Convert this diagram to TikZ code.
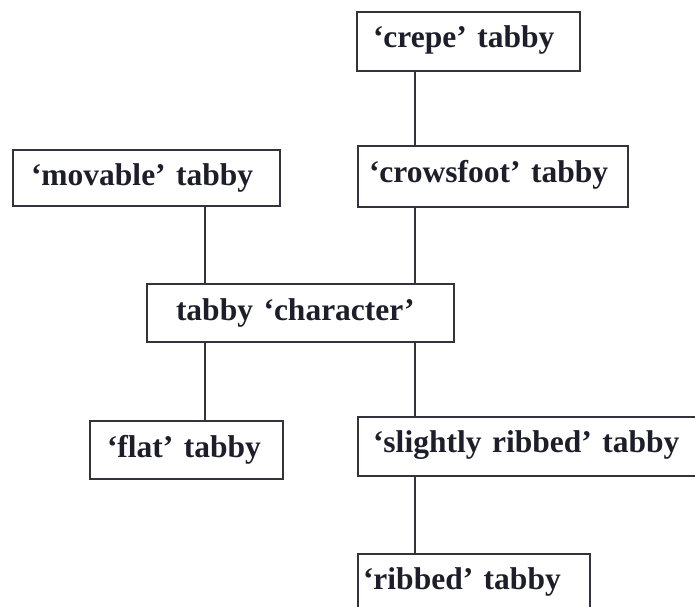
\documentclass[tikz,border=0pt]{standalone}
\usepackage{fontspec}
\setmainfont{Liberation Serif}
\definecolor{ink}{HTML}{1E1E2A}
\definecolor{edgec}{HTML}{33333D}
\begin{document}
\begin{tikzpicture}[x=1pt,y=-1pt,
  box/.style={draw=edgec, line width=2pt, rectangle, anchor=north west, inner ysep=0pt,
    align=left, font=\fontsize{31.5}{36}\selectfont\bfseries, text=ink},
  link/.style={draw=edgec, line width=2pt}]
\useasboundingbox (0,0) rectangle (695,606);
\coordinate (colL) at (205,0);
\coordinate (colR) at (415,0);
\node[box, inner xsep=16pt, text width=191pt, text height=35pt, text depth=24pt] (crepe) at (356,11) {\mbox{‘crepe’ tabby}};
\node[box, inner xsep=11pt, text width=248pt, text height=36pt, text depth=25pt] (crow) at (357,145) {\mbox{‘crowsfoot’ tabby}};
\node[box, inner xsep=18pt, text width=231pt, text height=35pt, text depth=21pt] (mov) at (12,149) {\mbox{‘movable’ tabby}};
\node[box, inner xsep=29pt, text width=249pt, text height=36pt, text depth=22pt] (char) at (146,283) {\mbox{tabby ‘character’}};
\node[box, inner xsep=17pt, text width=159pt, text height=36pt, text depth=22pt] (flat) at (89,420) {\mbox{‘flat’ tabby}};
\node[box, inner xsep=15pt, text width=315pt, text height=35pt, text depth=24pt] (slight) at (357,416) {\mbox{‘slightly ribbed’ tabby}};
\node[box, inner xsep=5pt, text width=222pt, text height=35pt, text depth=24pt] (ribbed) at (357,553) {\mbox{‘ribbed’ tabby}};
\draw[link] (crepe.south -| colR) -- (crow.north -| colR);
\draw[link] (crow.south -| colR) -- (char.north -| colR);
\draw[link] (mov.south -| colL) -- (char.north -| colL);
\draw[link] (char.south -| colL) -- (flat.north -| colL);
\draw[link] (char.south -| colR) -- (slight.north -| colR);
\draw[link] (slight.south -| colR) -- (ribbed.north -| colR);
\end{tikzpicture}
\end{document}
